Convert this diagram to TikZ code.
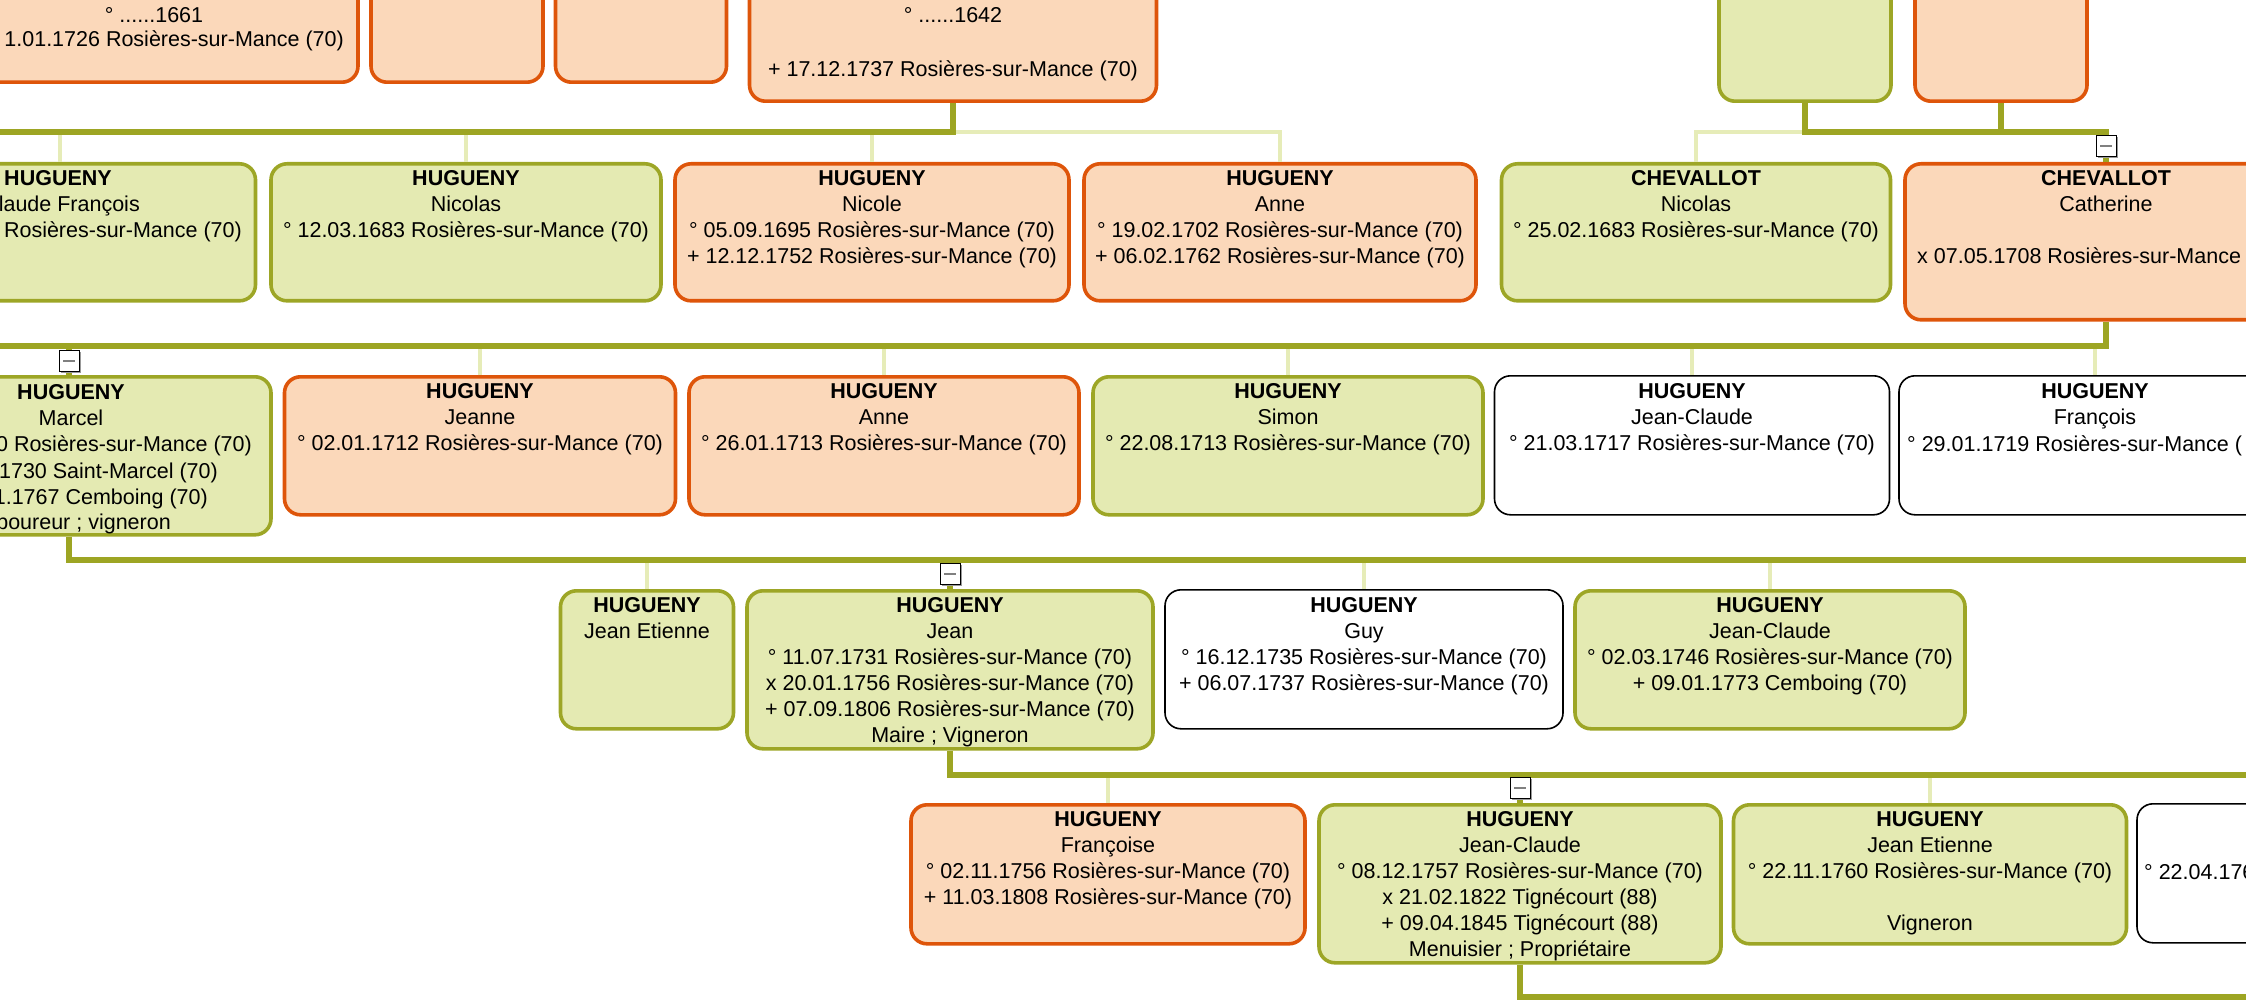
\documentclass[tikz,border=0pt]{standalone}
\usepackage{fontspec}
\setmainfont{Liberation Sans}
\usepackage{xcolor}
\usepackage{tikz}
\usetikzlibrary{positioning,shadows}

\definecolor{manfill}{HTML}{E4EAB2}
\definecolor{manline}{HTML}{9DA626}
\definecolor{womanfill}{HTML}{FBD8BA}
\definecolor{womanline}{HTML}{DE550A}
\definecolor{linkdark}{HTML}{9DA523}
\definecolor{linklight}{HTML}{E6ECB8}

\begin{document}
\begin{tikzpicture}[x=1pt,y=-1pt,
    person/.style={rectangle,rounded corners=16pt,inner sep=0pt,anchor=north,minimum height=138pt,line width=3.6pt},
    man/.style={person,draw=manline,fill=manfill},
    woman/.style={person,draw=womanline,fill=womanfill},
    unknown/.style={person,draw=black,fill=white,line width=1.6pt},
    txt/.style={align=center,inner sep=0pt,font=\fontsize{21.5}{26}\selectfont},
    link/.style={draw=linkdark,line width=5.3pt},
    sibling/.style={draw=linklight,line width=3.6pt},
    toggle/.style={draw=black,fill=white,line width=1pt,minimum width=20pt,minimum height=21pt,inner sep=0pt,
        drop shadow={opacity=1,fill=gray!80,shadow xshift=1.8pt,shadow yshift=-1.8pt},
        path picture={\draw[gray,line width=2pt] ([xshift=-6pt]path picture bounding box.center) -- ([xshift=6pt]path picture bounding box.center);}}]
    \useasboundingbox (0,0) rectangle (2246,1000);
    \clip (0,0) rectangle (2246,1000);

    % generation 0 (cut at the top)
    \node[woman,anchor=south,minimum width=408pt,minimum height=150pt] (g0a) at (154,84) {};
    \node[woman,anchor=south,minimum width=172pt,minimum height=150pt] (g0b) at (457,84) {};
    \node[woman,anchor=south,minimum width=171pt,minimum height=150pt] (g0c) at (641,84) {};
    \node[woman,anchor=south,minimum width=407pt,minimum height=170pt] (g0d) at (953,103) {};
    \node[man,anchor=south,minimum width=172pt,minimum height=170pt] (g0e) at (1805,103) {};
    \node[woman,anchor=south,minimum width=172pt,minimum height=170pt] (g0f) at (2001,103) {};

    % generation 1
    \node[man,minimum width=391pt,minimum height=137pt] (claudefr) at (60,162) {};
    \node[man,minimum width=390pt,minimum height=137pt] (nicolas) at (466,162) {};
    \node[woman,minimum width=394pt,minimum height=137pt] (nicole) at (872,162) {};
    \node[woman,minimum width=392pt,minimum height=137pt] (anne) at (1280,162) {};
    \node[man,minimum width=389pt,minimum height=137pt] (chnicolas) at (1696,162) {};
    \node[woman,minimum width=402pt,minimum height=156pt] (catherine) at (2106,162) {};

    % generation 2
    \node[man,minimum width=404pt,minimum height=158pt] (marcel) at (69,375) {};
    \node[woman,minimum width=391pt] (jeanne) at (480,375) {};
    \node[woman,minimum width=390pt] (anne2) at (884,375) {};
    \node[man,minimum width=390pt] (simon) at (1288,375) {};
    \node[unknown,minimum width=395pt,minimum height=139pt] (jclaude1) at (1692,375) {};
    \node[unknown,minimum width=392pt,minimum height=139pt] (francois) at (2095,375) {};

    % generation 3
    \node[man,minimum width=173pt] (jetienne1) at (647,589) {};
    \node[man,minimum width=406pt,minimum height=158pt] (jean) at (950,589) {};
    \node[unknown,minimum width=398pt,minimum height=139pt] (guy) at (1364,589) {};
    \node[man,minimum width=390pt] (jclaude2) at (1770,589) {};

    % generation 4
    \node[woman,minimum width=394pt,minimum height=139pt] (francoise) at (1108,803) {};
    \node[man,minimum width=402pt,minimum height=158pt] (jclaude3) at (1520,803) {};
    \node[man,minimum width=393pt,minimum height=139pt] (jetienne2) at (1930,803) {};
    \node[unknown,minimum width=400pt,minimum height=139pt] (last) at (2337,803) {};

    % rails leaving the picture
    \coordinate (w1) at (-10,132);
    \coordinate (w2) at (-10,346);
    \coordinate (e3) at (2260,560);
    \coordinate (e4) at (2260,775);
    \coordinate (e5) at (2260,997);

    % light links to the other children
    \foreach \n in {claudefr,nicolas,nicole} \draw[sibling] (\n.north) -- (\n.north |- w1);
    \draw[sibling] (g0d.south |- w1) -| (anne.north);
    \draw[sibling] (g0e.south |- w1) -| (chnicolas.north);
    \foreach \n in {jeanne,anne2,simon,jclaude1,francois} \draw[sibling] (\n.north) -- (\n.north |- w2);
    \foreach \n in {jetienne1,guy,jclaude2} \draw[sibling] (\n.north) -- (\n.north |- e3);
    \foreach \n in {francoise,jetienne2} \draw[sibling] (\n.north) -- (\n.north |- e4);

    % main line
    \draw[link] (g0d.south) |- (w1);
    \draw[link] (g0e.south) |- (catherine.north |- w1) -- (catherine.north);
    \draw[link] (g0f.south) -- (g0f.south |- w1);
    \draw[link] (catherine.south) |- (w2);
    \draw[link] (marcel.north |- w2) -- (marcel.north);
    \draw[link] (marcel.south) |- (e3);
    \draw[link] (jean.north |- e3) -- (jean.north);
    \draw[link] (jean.south) |- (e4);
    \draw[link] (jclaude3.north |- e4) -- (jclaude3.north);
    \draw[link] (jclaude3.south) |- (e5);

    % collapse buttons
    \node[toggle,above=5pt of catherine.north] (tcatherine) {};
    \node[toggle,above=3pt of marcel.north] (tmarcel) {};
    \node[toggle,above=4pt of jean.north] (tjean) {};
    \node[toggle,above=4pt of jclaude3.north] (tjclaude3) {};

    % texts, generation 0
    \node[txt,anchor=base] at (154,22.5) {° ......1661};
    \node[txt,anchor=base east] at (344,46.5) {1.01.1726 Rosières-sur-Mance (70)};
    \node[txt,anchor=base] at (953,22.5) {° ......1642};
    \node[txt,anchor=base] at (953,77) {+ 17.12.1737 Rosières-sur-Mance (70)};

    % texts, generation 1
    \node[txt,anchor=base] at (58,186) {\textbf{HUGUENY}};
    \node[txt,anchor=base east] at (140,212) {laude François};
    \node[txt,anchor=base east] at (242,238) {Rosières-sur-Mance (70)};
    \node[txt,below=8.5pt of nicolas.north] {\textbf{HUGUENY}\\Nicolas\\° 12.03.1683 Rosières-sur-Mance (70)};
    \node[txt,below=8.5pt of nicole.north] {\textbf{HUGUENY}\\Nicole\\° 05.09.1695 Rosières-sur-Mance (70)\\+ 12.12.1752 Rosières-sur-Mance (70)};
    \node[txt,below=8.5pt of anne.north] {\textbf{HUGUENY}\\Anne\\° 19.02.1702 Rosières-sur-Mance (70)\\+ 06.02.1762 Rosières-sur-Mance (70)};
    \node[txt,below=8.5pt of chnicolas.north] {\textbf{CHEVALLOT}\\Nicolas\\° 25.02.1683 Rosières-sur-Mance (70)};
    \node[txt,below=8.5pt of catherine.north] {\textbf{CHEVALLOT}\\Catherine};
    \node[txt,anchor=base west] at (1917,264) {x 07.05.1708 Rosières-sur-Mance};

    % texts, generation 2
    \node[txt,anchor=base] at (71,399) {\textbf{HUGUENY}};
    \node[txt,anchor=base] at (71,425) {Marcel};
    \node[txt,anchor=base east] at (252,451) {0 Rosières-sur-Mance (70)};
    \node[txt,anchor=base east] at (218,478) {1730 Saint-Marcel (70)};
    \node[txt,anchor=base east] at (208,504) {1.1767 Cemboing (70)};
    \node[txt,anchor=base east] at (171,529) {boureur ; vigneron};
    \node[txt,below=8.5pt of jeanne.north] {\textbf{HUGUENY}\\Jeanne\\° 02.01.1712 Rosières-sur-Mance (70)};
    \node[txt,below=8.5pt of anne2.north] {\textbf{HUGUENY}\\Anne\\° 26.01.1713 Rosières-sur-Mance (70)};
    \node[txt,below=8.5pt of simon.north] {\textbf{HUGUENY}\\Simon\\° 22.08.1713 Rosières-sur-Mance (70)};
    \node[txt,below=8.5pt of jclaude1.north] {\textbf{HUGUENY}\\Jean-Claude\\° 21.03.1717 Rosières-sur-Mance (70)};
    \node[txt,below=8.5pt of francois.north] {\textbf{HUGUENY}\\François};
    \node[txt,anchor=base west] at (1907,451) {° 29.01.1719 Rosières-sur-Mance (};

    % texts, generation 3
    \node[txt,below=8.5pt of jetienne1.north] {\textbf{HUGUENY}\\Jean Etienne};
    \node[txt,below=8.5pt of jean.north] {\textbf{HUGUENY}\\Jean\\° 11.07.1731 Rosières-sur-Mance (70)\\x 20.01.1756 Rosières-sur-Mance (70)\\+ 07.09.1806 Rosières-sur-Mance (70)\\Maire ; Vigneron};
    \node[txt,below=8.5pt of guy.north] {\textbf{HUGUENY}\\Guy\\° 16.12.1735 Rosières-sur-Mance (70)\\+ 06.07.1737 Rosières-sur-Mance (70)};
    \node[txt,below=8.5pt of jclaude2.north] {\textbf{HUGUENY}\\Jean-Claude\\° 02.03.1746 Rosières-sur-Mance (70)\\+ 09.01.1773 Cemboing (70)};

    % texts, generation 4
    \node[txt,below=8.5pt of francoise.north] {\textbf{HUGUENY}\\Françoise\\° 02.11.1756 Rosières-sur-Mance (70)\\+ 11.03.1808 Rosières-sur-Mance (70)};
    \node[txt,below=8.5pt of jclaude3.north] {\textbf{HUGUENY}\\Jean-Claude\\° 08.12.1757 Rosières-sur-Mance (70)\\x 21.02.1822 Tignécourt (88)\\+ 09.04.1845 Tignécourt (88)\\Menuisier ; Propriétaire};
    \node[txt,below=8.5pt of jetienne2.north] {\textbf{HUGUENY}\\Jean Etienne\\° 22.11.1760 Rosières-sur-Mance (70)\\\mbox{}\\Vigneron};
    \node[txt,anchor=base west] at (2144,879) {° 22.04.176};
\end{tikzpicture}
\end{document}
